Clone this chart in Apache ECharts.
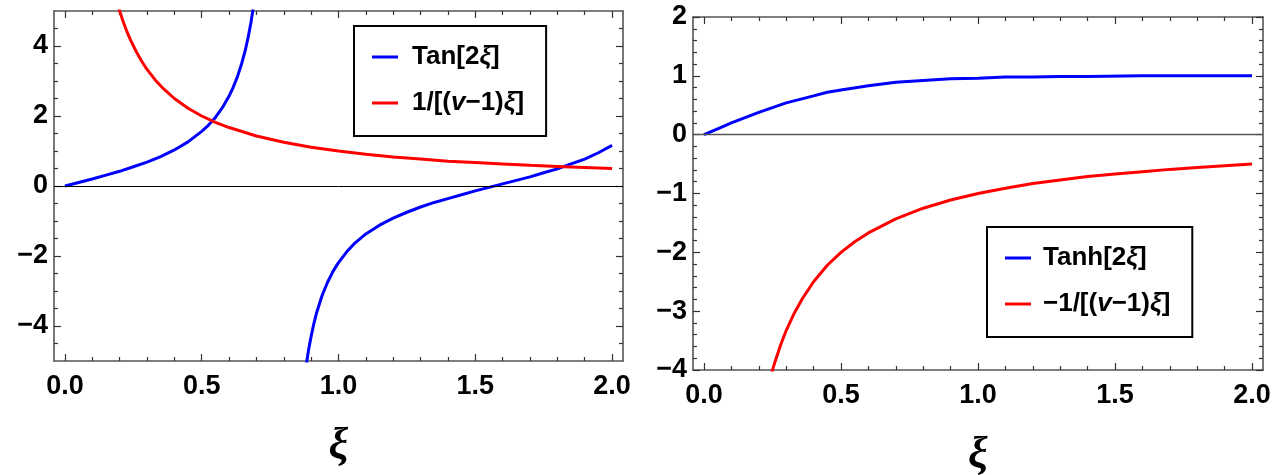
<!DOCTYPE html>
<html>
<head>
<meta charset="utf-8">
<script src="https://cdn.jsdelivr.net/npm/echarts@6/dist/echarts.min.js"></script>
<style>
  html, body { margin: 0; padding: 0; background: #fff; }
  #chart { width: 1283px; height: 475px; }
</style>
</head>
<body>
<div id="chart"></div>
<script>
// left panel: Tan[2ξ] (two branches) and 1/[(v-1)ξ]
var tanX1 = [0, 0.05, 0.1, 0.15, 0.2, 0.25, 0.3, 0.35, 0.4, 0.45, 0.5, 0.525, 0.55, 0.575, 0.6,
             0.615, 0.63, 0.645, 0.66, 0.67, 0.68, 0.69];
var tanY1 = [0, 0.1, 0.2, 0.31, 0.42, 0.55, 0.68, 0.84, 1.03, 1.26, 1.56, 1.74, 1.96, 2.23, 2.57,
             2.82, 3.11, 3.47, 3.9, 4.26, 4.67, 5.18];
var tanX2 = [0.88, 0.89, 0.9, 0.91, 0.92, 0.94, 0.96, 0.98, 1.0, 1.03, 1.06, 1.1, 1.15, 1.2, 1.25,
             1.3, 1.35, 1.4, 1.45, 1.5, 1.55, 1.6, 1.65, 1.7, 1.75, 1.8, 1.85, 1.9, 1.95, 2.0];
var tanY2 = [-5.22, -4.71, -4.29, -3.93, -3.62, -3.13, -2.75, -2.44, -2.19, -1.88, -1.63, -1.37, -1.12, -0.92, -0.75,
             -0.6, -0.47, -0.36, -0.25, -0.14, -0.04, 0.06, 0.16, 0.26, 0.38, 0.49, 0.63, 0.77, 0.95, 1.16];
var recX = [0.195, 0.21, 0.225, 0.24, 0.26, 0.28, 0.3, 0.33, 0.36, 0.4, 0.45, 0.5, 0.55, 0.6, 0.7,
            0.8, 0.9, 1.0, 1.1, 1.2, 1.3, 1.4, 1.5, 1.6, 1.7, 1.8, 1.9, 2.0];
var recY = [5.13, 4.76, 4.44, 4.17, 3.85, 3.57, 3.33, 3.03, 2.78, 2.5, 2.22, 2.0, 1.82, 1.67, 1.43,
            1.25, 1.11, 1.0, 0.91, 0.83, 0.77, 0.71, 0.67, 0.63, 0.59, 0.56, 0.53, 0.5];

// right panel: Tanh[2ξ] and -1/[(v-1)ξ]
var tanhX = [0, 0.05, 0.1, 0.15, 0.2, 0.25, 0.3, 0.35, 0.4, 0.45, 0.5, 0.6, 0.7, 0.8, 0.9,
             1.0, 1.1, 1.2, 1.3, 1.4, 1.6, 1.8, 2.0];
var tanhY = [0, 0.1, 0.2, 0.29, 0.38, 0.46, 0.54, 0.6, 0.66, 0.72, 0.76, 0.83, 0.89, 0.92, 0.95,
             0.96, 0.98, 0.98, 0.99, 0.99, 1.0, 1.0, 1.0];
var negX = [0.245, 0.26, 0.28, 0.3, 0.33, 0.36, 0.4, 0.45, 0.5, 0.55, 0.6, 0.7, 0.8, 0.9, 1.0,
            1.1, 1.2, 1.3, 1.4, 1.5, 1.6, 1.7, 1.8, 1.9, 2.0];
var negY = [-4.08, -3.85, -3.57, -3.33, -3.03, -2.78, -2.5, -2.22, -2.0, -1.82, -1.67, -1.43, -1.25, -1.11, -1.0,
            -0.91, -0.83, -0.77, -0.71, -0.67, -0.63, -0.59, -0.56, -0.53, -0.5];

// ticks
var xMajor = [0, 0.5, 1, 1.5, 2];
var xMinor = [0.1, 0.2, 0.3, 0.4, 0.6, 0.7, 0.8, 0.9, 1.1, 1.2, 1.3, 1.4, 1.6, 1.7, 1.8, 1.9];
var yMajorL = [-4, -2, 0, 2, 4];
var yMinorL = [-4.5, -3.5, -3, -2.5, -1.5, -1, -0.5, 0.5, 1, 1.5, 2.5, 3, 3.5, 4.5];
var yMajorR = [-4, -3, -2, -1, 0, 1, 2];
var yMinorR = [-3.8, -3.6, -3.4, -3.2, -2.8, -2.6, -2.4, -2.2, -1.8, -1.6, -1.4, -1.2,
               -0.8, -0.6, -0.4, -0.2, 0.2, 0.4, 0.6, 0.8, 1.2, 1.4, 1.6, 1.8];

var legendNames = ['Tan[2ξ]', '1/[(v−1)ξ]', 'Tanh[2ξ]', '−1/[(v−1)ξ]'];

function zip(xs, ys) {
    return xs.map(function (x, i) { return [x, ys[i]]; });
}

var frameColor = '#555';
var tickColor = '#333';
var sans = '"Liberation Sans", Arial, sans-serif';

function makeAxis(kind, grid, pos, min, max, ticks, major, withLabels) {
    var ax = {
        type: 'value',
        gridIndex: grid,
        position: pos,
        min: min,
        max: max,
        splitLine: { show: false },
        axisLine: { show: major, onZero: false, lineStyle: { color: frameColor, width: 1.6 } },
        axisTick: {
            show: true,
            inside: true,
            customValues: ticks,
            length: major ? 7 : 4,
            lineStyle: { color: tickColor, width: 1.2 }
        },
        axisLabel: { show: false }
    };
    if (withLabels) {
        ax.axisLabel = {
            show: true,
            customValues: ticks,
            fontFamily: sans,
            fontWeight: 'bold',
            fontSize: 27,
            color: '#000',
            margin: kind === 'x' ? 12 : 6,
            formatter: function (v) {
                return kind === 'x' ? v.toFixed(1) : String(v).replace('-', '−');
            }
        };
    }
    if (withLabels && kind === 'x') {
        ax.name = 'ξ';
        ax.nameLocation = 'middle';
        ax.nameGap = 64;
        ax.nameTextStyle = {
            fontFamily: '"Liberation Serif", serif',
            fontStyle: 'italic',
            fontWeight: 'bold',
            fontSize: 44,
            color: '#000'
        };
    }
    return ax;
}

// grids 0/1 = left panel (major / minor ticks), grids 2/3 = right panel
var panels = [
    { yMin: -5, yMax: 5, yMajor: yMajorL, yMinor: yMinorL },
    { yMin: -4, yMax: 2, yMajor: yMajorR, yMinor: yMinorR }
];
var xAxes = [], yAxes = [];
panels.forEach(function (p, i) {
    var gMaj = i * 2, gMin = i * 2 + 1;
    xAxes.push(makeAxis('x', gMaj, 'bottom', -0.04, 2.04, xMajor, true, true));
    xAxes.push(makeAxis('x', gMaj, 'top', -0.04, 2.04, xMajor, true, false));
    xAxes.push(makeAxis('x', gMin, 'bottom', -0.04, 2.04, xMinor, false, false));
    xAxes.push(makeAxis('x', gMin, 'top', -0.04, 2.04, xMinor, false, false));
    yAxes.push(makeAxis('y', gMaj, 'left', p.yMin, p.yMax, p.yMajor, true, true));
    yAxes.push(makeAxis('y', gMaj, 'right', p.yMin, p.yMax, p.yMajor, true, false));
    yAxes.push(makeAxis('y', gMin, 'left', p.yMin, p.yMax, p.yMinor, false, false));
    yAxes.push(makeAxis('y', gMin, 'right', p.yMin, p.yMax, p.yMinor, false, false));
});

function legendFormatter(name) {
    return name.replace('ξ', '{i|ξ}').replace('v', '{i|v}');
}

function makeLegend(names, left, top, textPad) {
    return {
        data: names,
        orient: 'vertical',
        left: left,
        top: top,
        padding: [18, 22, 20, 18],
        itemGap: 20,
        itemWidth: 26,
        itemHeight: 3,
        icon: 'rect',
        borderColor: '#000',
        borderWidth: 2,
        borderRadius: 0,
        backgroundColor: '#fff',
        formatter: legendFormatter,
        textStyle: {
            fontFamily: sans,
            fontWeight: 'bold',
            fontSize: 26,
            color: '#000',
            padding: [0, 0, 0, textPad],
            rich: {
                i: {
                    fontFamily: sans,
                    fontStyle: 'italic',
                    fontWeight: 'bold',
                    fontSize: 26,
                    color: '#000'
                }
            }
        }
    };
}

function lineSeries(name, data, color, axisIdx, extra) {
    var s = {
        name: name,
        type: 'line',
        data: data,
        xAxisIndex: axisIdx,
        yAxisIndex: axisIdx,
        showSymbol: false,
        symbol: 'none',
        smooth: false,
        clip: true,
        color: color,
        lineStyle: { color: color, width: 3 }
    };
    for (var k in extra) s[k] = extra[k];
    return s;
}

function zeroLine(color, width) {
    return {
        silent: true,
        symbol: ['none', 'none'],
        label: { show: false },
        lineStyle: { color: color, width: width, type: 'solid' },
        data: [{ yAxis: 0 }]
    };
}

// fixed plot rectangles; outerBoundsMode 'none' stops v6 from shrinking them
function rect(left, top, width, height) {
    return { left: left, top: top, width: width, height: height, outerBoundsMode: 'none', containLabel: false };
}

var chart = echarts.init(document.getElementById('chart'));
chart.setOption({
    animation: false,
    backgroundColor: '#fff',
    grid: [rect(54, 11, 569, 350), rect(54, 11, 569, 350), rect(693, 17, 570, 353), rect(693, 17, 570, 353)],
    xAxis: xAxes,
    yAxis: yAxes,
    legend: [
        makeLegend([legendNames[0], legendNames[1]], 354, 26, 9),
        makeLegend([legendNames[2], legendNames[3]], 987, 227, 7)
    ],
    series: [
        lineSeries(legendNames[0], zip(tanX1, tanY1), '#0000ff', 0, { markLine: zeroLine('#000', 1) }),
        lineSeries(legendNames[0], zip(tanX2, tanY2), '#0000ff', 0, {}),
        lineSeries(legendNames[1], zip(recX, recY), '#ff0000', 0, {}),
        lineSeries(legendNames[2], zip(tanhX, tanhY), '#0000ff', 4, { markLine: zeroLine('#555', 1.3) }),
        lineSeries(legendNames[3], zip(negX, negY), '#ff0000', 4, {})
    ]
});
</script>
</body>
</html>
